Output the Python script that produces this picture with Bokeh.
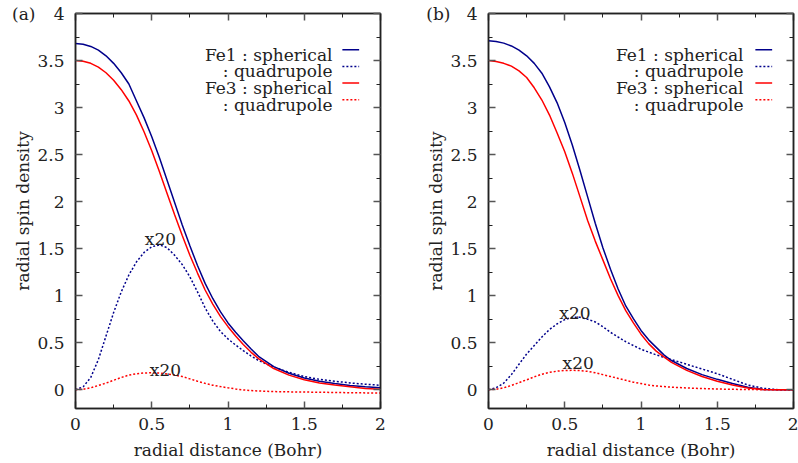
from bokeh.plotting import figure
from bokeh.models import Range1d, FixedTicker, LinearAxis, Label
from bokeh.layouts import row
from bokeh.embed import file_html
from bokeh.resources import INLINE

# ---------------- data ----------------
r = [0.0, 0.05, 0.1, 0.15, 0.2, 0.25, 0.3, 0.35, 0.4, 0.45, 0.5, 0.55, 0.6, 0.65,
     0.7, 0.75, 0.8, 0.85, 0.9, 0.95, 1.0, 1.05, 1.1, 1.15, 1.2, 1.3, 1.4, 1.5,
     1.6, 1.7, 1.8, 1.9, 2.0]

# panel (a)
a_fe1_sph = [3.68, 3.672, 3.65, 3.61, 3.55, 3.47, 3.37, 3.25, 3.07, 2.89, 2.69, 2.47,
             2.23, 1.99, 1.75, 1.53, 1.32, 1.13, 0.97, 0.83, 0.71, 0.61, 0.52, 0.435,
             0.355, 0.245, 0.175, 0.125, 0.09, 0.065, 0.045, 0.03, 0.02]
a_fe1_quad = [0.0, 0.03, 0.13, 0.32, 0.57, 0.82, 1.04, 1.22, 1.36, 1.46, 1.52, 1.54,
              1.51, 1.43, 1.33, 1.20, 1.04, 0.87, 0.73, 0.62, 0.54, 0.475, 0.415, 0.36,
              0.31, 0.24, 0.185, 0.14, 0.11, 0.09, 0.072, 0.058, 0.047]
a_fe3_sph = [3.50, 3.493, 3.47, 3.43, 3.37, 3.29, 3.19, 3.07, 2.92, 2.74, 2.54, 2.32,
             2.09, 1.86, 1.64, 1.43, 1.24, 1.06, 0.91, 0.78, 0.67, 0.57, 0.48, 0.40,
             0.33, 0.225, 0.155, 0.105, 0.072, 0.05, 0.032, 0.012, 0.005]
a_fe3_quad = [0.0, 0.005, 0.02, 0.045, 0.07, 0.10, 0.13, 0.155, 0.17, 0.178, 0.18,
              0.177, 0.168, 0.155, 0.14, 0.115, 0.09, 0.067, 0.048, 0.033, 0.02, 0.008,
              -0.002, -0.009, -0.014, -0.02, -0.023, -0.025, -0.027, -0.03, -0.032,
              -0.034, -0.036]

# panel (b)
b_fe1_sph = [3.71, 3.703, 3.685, 3.655, 3.61, 3.55, 3.47, 3.365, 3.22, 3.05, 2.84, 2.60,
             2.33, 2.05, 1.77, 1.51, 1.28, 1.07, 0.89, 0.755, 0.63, 0.53, 0.45, 0.37,
             0.31, 0.225, 0.16, 0.11, 0.065, 0.025, 0.003, 0.0, 0.0]
b_fe1_quad = [0.0, 0.02, 0.07, 0.16, 0.27, 0.38, 0.47, 0.56, 0.64, 0.70, 0.745, 0.77,
              0.77, 0.75, 0.72, 0.67, 0.61, 0.56, 0.51, 0.47, 0.43, 0.40, 0.37, 0.345,
              0.32, 0.27, 0.22, 0.17, 0.11, 0.05, 0.015, 0.0, 0.0]
b_fe3_sph = [3.50, 3.49, 3.47, 3.44, 3.39, 3.32, 3.21, 3.08, 2.92, 2.73, 2.53, 2.30,
             2.05, 1.80, 1.58, 1.38, 1.18, 1.00, 0.84, 0.71, 0.59, 0.49, 0.41, 0.35,
             0.29, 0.205, 0.14, 0.09, 0.05, 0.018, 0.003, 0.0, 0.0]
b_fe3_quad = [0.0, 0.005, 0.02, 0.045, 0.075, 0.105, 0.137, 0.165, 0.185, 0.197, 0.204,
              0.206, 0.203, 0.195, 0.18, 0.16, 0.14, 0.12, 0.10, 0.08, 0.065, 0.05,
              0.04, 0.033, 0.027, 0.018, 0.012, 0.007, 0.004, 0.002, 0.0, 0.0, 0.0]

x_ticks = [0, 0.5, 1, 1.5, 2]
x_tick_labels = ["0", "0.5", "1", "1.5", "2"]
x_minor = [0.25, 0.75, 1.25, 1.75]
y_ticks = [0, 0.5, 1, 1.5, 2, 2.5, 3, 3.5, 4]
y_tick_labels = ["0", "0.5", "1", "1.5", "2", "2.5", "3", "3.5", "4"]
y_minor = [-0.25, 0.25, 0.75, 1.25, 1.75, 2.25, 2.75, 3.25, 3.75]

panel_tags = ["(a)", "(b)"]
tag_at_y = 4
legend_labels = ["Fe1 : spherical", ": quadrupole", "Fe3 : spherical", ": quadrupole"]
x_label = "radial distance (Bohr)"
y_label = "radial spin density"

# ---------------- style ----------------
FONT = "DejaVu Serif"
FS = "17px"
TXT = "#222222"
BLUE = "#00008b"
RED = "#ff0000"
DOT = "2 2"

LEG_ROWS_Y = [3.564, 3.387, 3.21, 3.032]
LEG_KEY_DY = 0.05


def style_axis(ax, show_labels=True):
    ax.major_tick_in = 7
    ax.major_tick_out = 0
    ax.minor_tick_in = 4
    ax.minor_tick_out = 0
    ax.major_tick_line_color = "#555555"
    ax.major_tick_line_width = 1.5
    ax.minor_tick_line_color = "#222222"
    ax.minor_tick_line_width = 1
    ax.axis_line_color = "#222222"
    ax.axis_line_width = 1.5
    ax.major_label_text_font = FONT
    ax.major_label_text_font_size = FS
    ax.major_label_text_color = TXT
    ax.axis_label_text_font = FONT
    ax.axis_label_text_font_size = FS
    ax.axis_label_text_font_style = "normal"
    ax.axis_label_text_color = TXT
    if not show_labels:
        ax.major_label_text_color = None
        ax.major_label_text_font_size = "1px"
        ax.major_label_standoff = 0
        ax.axis_label = None


def make_panel(tag, fe1_sph, fe1_quad, fe3_sph, fe3_quad, x20_pos,
               leg_text_x, leg_key_x, width, border_left, border_right,
               tag_standoff, ylabel_standoff):
    p = figure(width=width, height=463, output_backend="svg", toolbar_location=None,
               x_range=Range1d(0, 2), y_range=Range1d(-0.2, 4),
               min_border_left=border_left, min_border_right=border_right,
               min_border_top=13, min_border_bottom=55)
    p.xgrid.visible = False
    p.ygrid.visible = False
    p.outline_line_color = "#222222"
    p.outline_line_width = 1.5
    p.background_fill_color = "white"
    p.border_fill_color = "white"

    p.xaxis.ticker = FixedTicker(ticks=x_ticks, minor_ticks=x_minor)
    p.yaxis.ticker = FixedTicker(ticks=y_ticks, minor_ticks=y_minor)
    p.xaxis.major_label_overrides = dict(zip(x_ticks, x_tick_labels))
    p.yaxis.major_label_overrides = dict(zip(y_ticks, y_tick_labels))
    p.xaxis.axis_label = x_label
    for ax in p.xaxis:
        style_axis(ax)
        ax.major_label_standoff = 9
        ax.axis_label_standoff = 7
    for ax in p.yaxis:
        style_axis(ax)
        ax.major_label_standoff = 11

    # outer left axis: carries the panel tag (as its single label) and the y title
    tag_axis = LinearAxis(ticker=FixedTicker(ticks=[tag_at_y], minor_ticks=[]),
                          major_label_overrides={tag_at_y: tag},
                          axis_label=y_label)
    style_axis(tag_axis)
    tag_axis.axis_line_color = None
    tag_axis.major_tick_line_color = None
    tag_axis.minor_tick_line_color = None
    tag_axis.major_tick_in = 0
    tag_axis.minor_tick_in = 0
    tag_axis.major_label_standoff = tag_standoff
    tag_axis.axis_label_standoff = ylabel_standoff
    p.add_layout(tag_axis, "left")

    top = LinearAxis(ticker=FixedTicker(ticks=x_ticks, minor_ticks=x_minor))
    right = LinearAxis(ticker=FixedTicker(ticks=y_ticks, minor_ticks=y_minor))
    style_axis(top, show_labels=False)
    style_axis(right, show_labels=False)
    p.add_layout(top, "above")
    p.add_layout(right, "right")

    # curves
    p.line(r, fe1_sph, line_color=BLUE, line_width=1.5)
    p.line(r, fe1_quad, line_color=BLUE, line_width=1.5, line_dash=DOT)
    p.line(r, fe3_sph, line_color=RED, line_width=1.5)
    p.line(r, fe3_quad, line_color=RED, line_width=1.5, line_dash=DOT)

    # legend (text right-aligned, key on the right)
    colors = [BLUE, BLUE, RED, RED]
    dashes = ["solid", DOT, "solid", DOT]
    for lab, ly, c, d in zip(legend_labels, LEG_ROWS_Y, colors, dashes):
        p.add_layout(Label(x=leg_text_x, y=ly, text=lab, text_align="right",
                           text_baseline="alphabetic", text_font=FONT,
                           text_font_size=FS, text_color=TXT))
        p.line(leg_key_x, [ly + LEG_KEY_DY] * 2, line_color=c, line_width=1.5,
               line_dash=d)

    # x20 annotations
    for (tx, ty) in x20_pos:
        p.add_layout(Label(x=tx, y=ty, text="x20", text_align="center",
                           text_baseline="alphabetic", text_font=FONT,
                           text_font_size=FS, text_color=TXT))
    return p


pa = make_panel(panel_tags[0], a_fe1_sph, a_fe1_quad, a_fe3_sph, a_fe3_quad,
                [(0.557, 1.60), (0.59, 0.205)], 1.685, [1.75, 1.86],
                400, 75, 20, -1, -24)
pb = make_panel(panel_tags[1], b_fe1_sph, b_fe1_quad, b_fe3_sph, b_fe3_quad,
                [(0.567, 0.82), (0.588, 0.283)], 1.672, [1.75, 1.86],
                398, 88, 5, -3, -23)

layout = row(pa, pb)
open("out.html", "w").write(file_html(layout, INLINE))
